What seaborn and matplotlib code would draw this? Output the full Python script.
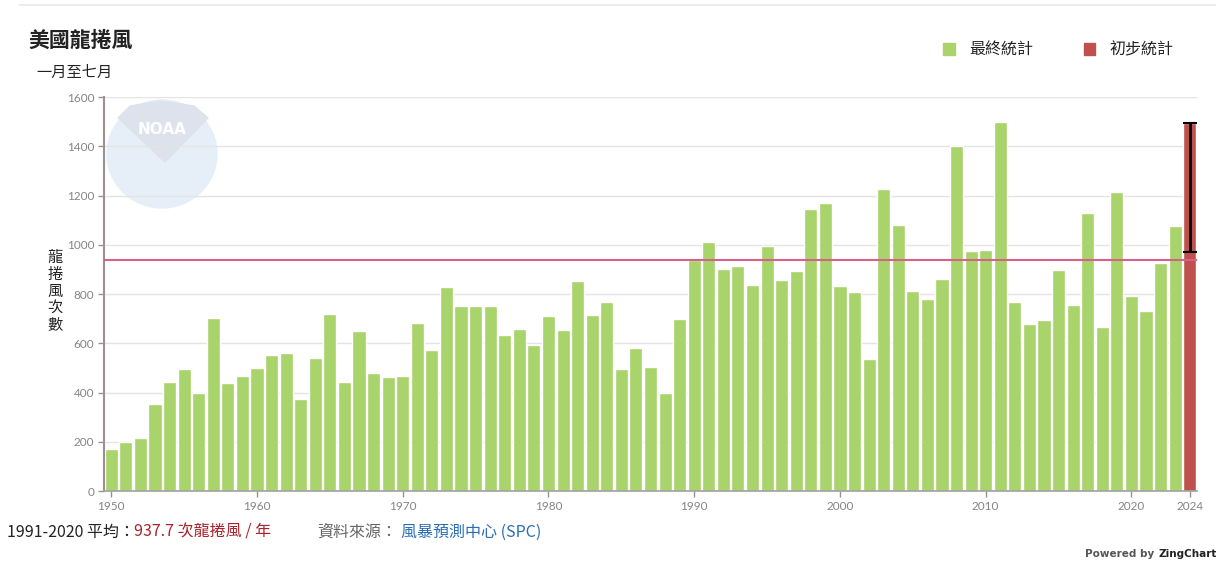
import numpy as np
import pandas as pd
import seaborn as sns
import matplotlib.pyplot as plt
from matplotlib.patches import Patch, Ellipse, Polygon
from matplotlib.lines import Line2D

# final (green) counts, Jan-Jul, 1950..2023
years = list(range(1950, 2024))
final_counts = [172, 200, 214, 354, 444, 494, 397, 704, 437, 469,
                501, 551, 559, 374, 542, 718, 444, 651, 478, 462,
                466, 681, 571, 827, 752, 752, 752, 633, 657, 593,
                709, 653, 852, 713, 766, 497, 580, 502, 400, 699,
                939, 1013, 903, 915, 838, 993, 858, 895, 1145, 1169,
                834, 807, 537, 1227, 1082, 811, 781, 862, 1399, 973,
                977, 1497, 766, 678, 696, 896, 757, 1128, 666, 1215,
                793, 732, 924, 1077]
# preliminary (red) 2024 bar and its range
prelim_year = 2024
prelim_count = 1493
prelim_low = 972
avg_1991_2020 = 937.7

label_final = "最終統計"
label_prelim = "初步統計"
xtick_years = [1950, 1960, 1970, 1980, 1990, 2000, 2010, 2020, 2024]
ytick_vals = [0, 200, 400, 600, 800, 1000, 1200, 1400, 1600]

green = "#a9d36b"
red = "#c0504d"
axis_grey = "#9a9090"
tick_grey = "#858585"

df = pd.DataFrame({
    "year": years + [prelim_year],
    "count": final_counts + [prelim_count],
    "status": [label_final] * len(years) + [label_prelim],
})

sns.set_theme(style="white")
plt.rcParams["font.family"] = ["Noto Sans CJK TC", "DejaVu Sans"]

W, H = 1216, 562
fig = plt.figure(figsize=(W / 100, H / 100), dpi=100)
ax = fig.add_axes([104 / W, 1 - 491 / H, (1197 - 104) / W, (491 - 97) / H])

def fx(px):
    return px / W

def fy(py):
    return 1 - py / H

# faint NOAA watermark behind the plot
fig.add_artist(Ellipse((fx(162), fy(154)), 110 / W, 108 / H, transform=fig.transFigure,
                       color="#e6eff8", zorder=0))
fig.add_artist(Polygon([(fx(118), fy(118)), (fx(130), fy(106)), (fx(162), fy(101)),
                        (fx(194), fy(106)), (fx(208), fy(118)), (fx(165), fy(162))],
                       closed=True, transform=fig.transFigure, color="#dde2ec", zorder=0))
fig.text(fx(162), fy(129), "NOAA", color="white", fontsize=11, fontweight="bold",
         ha="center", va="center", family=["DejaVu Sans"], zorder=0)
ax.patch.set_alpha(0)

sns.barplot(data=df, x="year", y="count", hue="status", native_scale=True, dodge=False,
            palette={label_final: green, label_prelim: red}, saturation=1, width=0.9,
            legend=False, ax=ax, zorder=2)

ax.errorbar([prelim_year], [prelim_count], yerr=[[prelim_count - prelim_low], [0]],
            fmt="none", ecolor="black", elinewidth=2, capsize=5, capthick=1.5, zorder=4)
ax.axhline(avg_1991_2020, color="#d6628c", lw=1.5, zorder=3)

ax.set_xlim(1949.5, 2024.5)
ax.set_ylim(0, 1600)
ax.set_xticks(xtick_years)
ax.set_xticklabels([str(y) for y in xtick_years])
ax.set_yticks(ytick_vals)
ax.set_yticklabels([str(v) for v in ytick_vals])
ax.yaxis.grid(True, color="#e4e4e4", lw=1)
ax.set_axisbelow(True)
ax.set_xlabel("")
ax.set_ylabel("")
for s in ["top", "right"]:
    ax.spines[s].set_visible(False)
ax.spines["left"].set_color(axis_grey)
ax.spines["left"].set_linewidth(1.5)
ax.spines["bottom"].set_color("#a0a0a0")
ax.spines["bottom"].set_linewidth(1.2)
ax.tick_params(axis="both", which="both", direction="out", length=4, width=1,
               color=axis_grey, labelcolor=tick_grey, labelsize=8.5, pad=3, bottom=True, left=True)
for lab in ax.get_xticklabels() + ax.get_yticklabels():
    lab.set_family(["Lato", "DejaVu Sans"])

# titles
fig.text(fx(28), fy(40), "美國龍捲風", fontsize=15, fontweight="bold", color="#222222",
         ha="left", va="center")
fig.text(fx(36), fy(72), "一月至七月", fontsize=11, color="#222222", ha="left", va="center")
fig.text(fx(55), fy(291), "龍\n捲\n風\n次\n數", fontsize=11, color="#222222",
         ha="center", va="center", linespacing=1.0)

# legend
handles = [Patch(color=green, label=label_final), Patch(color=red, label=label_prelim)]
fig.legend(handles=handles, loc="center right", bbox_to_anchor=(fx(1188), fy(50)), ncol=2,
           frameon=False, fontsize=11.5, handlelength=0.7, handleheight=0.7,
           handletextpad=0.9, columnspacing=3.2, labelcolor="#222222")

# footer
fig.text(fx(7), fy(532), "1991-2020 平均：", fontsize=11.5, color="#222222", ha="left", va="center")
fig.text(fx(134), fy(532), "937.7 次龍捲風 / 年", fontsize=11.5, color="#a8232b", ha="left", va="center")
fig.text(fx(317), fy(532), "資料來源：", fontsize=11.5, color="#666666", ha="left", va="center")
fig.text(fx(401), fy(532), "風暴預測中心 (SPC)", fontsize=11.5, color="#2a6db5", ha="left", va="center")
pw = fig.text(fx(1085), fy(554), "Powered by", fontsize=7.5, color="#555555", ha="left", va="center",
              fontweight="bold", family=["DejaVu Sans"])
fig.canvas.draw()
bb = pw.get_window_extent()
fig.text(bb.x1 / W + fx(4), fy(554), "ZingChart", fontsize=7.5, color="#222222", ha="left",
         va="center", fontweight="bold", family=["DejaVu Sans"])

fig.add_artist(Line2D([fx(20), 1], [fy(5), fy(5)], transform=fig.transFigure,
                      color="#ececec", lw=1.5))

fig.savefig("out.png", dpi=100)
